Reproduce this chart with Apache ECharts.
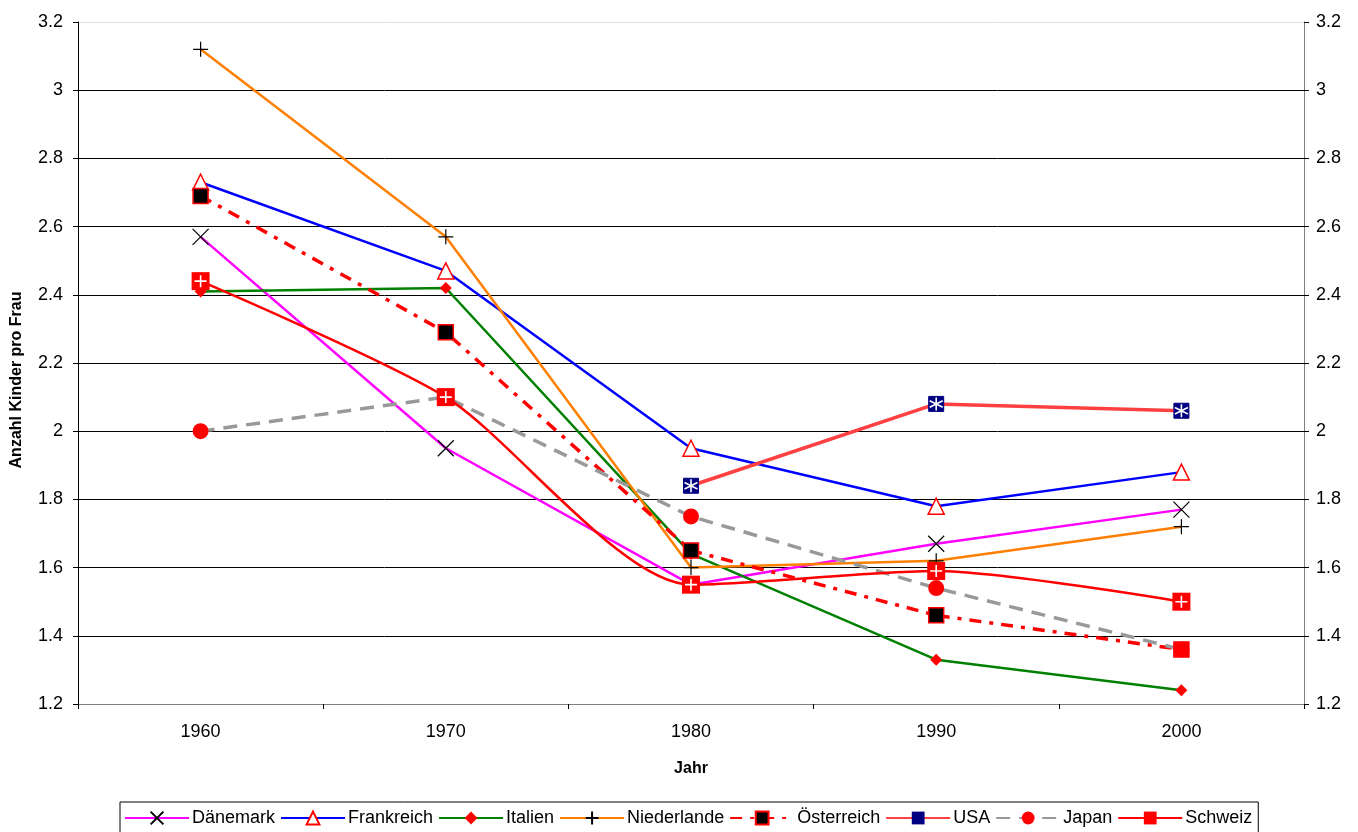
<!DOCTYPE html>
<html><head><meta charset="utf-8">
<script src="https://cdn.jsdelivr.net/npm/echarts@6/dist/echarts.min.js"></script>
<style>html,body{margin:0;padding:0;background:#fff}#c{width:1358px;height:832px}</style>
</head><body><div id="c"></div>
<script>
const years = ['1960','1970','1980','1990','2000'];
const daenemark = [2.57, 1.95, 1.55, 1.67, 1.77];
const frankreich = [2.73, 2.47, 1.95, 1.78, 1.88];
const italien = [2.41, 2.42, 1.64, 1.33, 1.24];
const niederlande = [3.12, 2.57, 1.60, 1.62, 1.72];
const oesterreich = [2.69, 2.29, 1.65, 1.46, 1.36];
const usa = [null, null, 1.84, 2.08, 2.06];
const japan = [2.00, 2.10, 1.75, 1.54, 1.36];
const schweiz = [2.44, 2.10, 1.55, 1.59, 1.50];
const yTicks = {min: 1.2, max: 3.2, step: 0.2};

const X_PATH = 'path://M0,0L20,20M20,0L0,20';
const PLUS_PATH = 'path://M10,0L10,20M0,10L20,10';
const STAR_PATH = 'path://M10,2L10,18M3,6L17,14M17,6L3,14';

const font = 'Arial, "Liberation Sans", sans-serif';
function line(name, data, color, width, type, symbol, size, itemStyle, extra) {
  return Object.assign({
    name, type: 'line', data, symbol, symbolSize: size, showSymbol: true,
    lineStyle: {color, width, type}, itemStyle, connectNulls: false, z: 2
  }, extra || {});
}
const series = [
  line('Dänemark', daenemark, '#ff00ff', 2.5, 'solid', X_PATH, 16, {color: 'rgba(0,0,0,0)', borderColor: '#000', borderWidth: 1.2}),
  line('Frankreich', frankreich, '#0000ff', 2.5, 'solid', 'triangle', 16, {color: '#fff', borderColor: '#ff0000', borderWidth: 1.5}),
  line('Italien', italien, '#008000', 2.5, 'solid', 'diamond', 12, {color: '#ff0000'}),
  line('Niederlande', niederlande, '#ff7f00', 2.5, 'solid', PLUS_PATH, 15, {color: 'rgba(0,0,0,0)', borderColor: '#000', borderWidth: 1.2}),
  line('Österreich', oesterreich.map((v, i) => i === 4 ? {value: v, itemStyle: {color: '#ff0000', borderColor: '#ff0000'}} : v), '#ff0000', 3.5, [12, 8, 4, 8], 'rect', 15, {color: '#000', borderColor: '#ff0000', borderWidth: 1.5}),
  line('USA', usa, '#ff4040', 3.5, 'solid', 'rect', 15, {color: '#000080', borderColor: '#000080'}),
  line('Japan', japan, '#999999', 3.5, [14, 9], 'circle', 16, {color: '#ff0000'}),
  line('Schweiz', schweiz, '#ff0000', 2.5, 'solid', 'rect', 18, {color: '#ff0000'}, {smooth: 0.25, smoothConstraint: false}),
  {name: 'usaStar', type: 'line', data: usa, symbol: STAR_PATH, symbolSize: 13, showSymbol: true, silent: true,
   lineStyle: {opacity: 0}, itemStyle: {color: 'rgba(0,0,0,0)', borderColor: '#fff', borderWidth: 1.6}, z: 5},
  {name: 'chCross', type: 'line', data: schweiz, symbol: PLUS_PATH, symbolSize: 12, showSymbol: true, silent: true,
   lineStyle: {opacity: 0}, itemStyle: {color: 'rgba(0,0,0,0)', borderColor: '#fff', borderWidth: 1.6}, z: 5}
];

const gridColors = ['#808080','#000','#000','#000','#000','#000','#000','#000','#000','#000','#e0e0e0'];
const yAxisBase = {
  type: 'value', min: yTicks.min, max: yTicks.max, interval: yTicks.step,
  axisLine: {show: true, lineStyle: {color: '#000', width: 1}},
  axisTick: {show: true, inside: false, length: 5, lineStyle: {color: '#000'}},
  axisLabel: {color: '#000', fontSize: 18, fontFamily: font, margin: 15}
};

const chart = echarts.init(document.getElementById('c'), null, {renderer: 'canvas'});
chart.setOption({
  animation: false,
  backgroundColor: '#fff',
  grid: {left: 78, right: 54, top: 22, bottom: 128},
  xAxis: {
    type: 'category', data: years, boundaryGap: true,
    name: 'Jahr', nameLocation: 'middle', nameGap: 57,
    nameTextStyle: {fontWeight: 'bold', fontSize: 16, fontFamily: font, color: '#000'},
    axisLine: {lineStyle: {color: '#808080', width: 1}},
    axisTick: {show: true, length: 5, lineStyle: {color: '#000'}},
    axisLabel: {color: '#000', fontSize: 18, fontFamily: font, margin: 19}
  },
  yAxis: [
    Object.assign({}, yAxisBase, {
      position: 'left', name: 'Anzahl Kinder pro Frau', nameLocation: 'middle', nameGap: 53,
      nameTextStyle: {fontWeight: 'bold', fontSize: 16, fontFamily: font, color: '#000', padding: [0, 34, 0, 0]},
      splitLine: {show: true, lineStyle: {color: gridColors, width: 1}}
    }),
    Object.assign({}, yAxisBase, {position: 'right', splitLine: {show: false},
      axisLabel: {color: '#000', fontSize: 18, fontFamily: font, margin: 12},
      axisLine: {show: true, lineStyle: {color: '#808080', width: 1}},
      axisTick: {show: true, inside: false, length: 5, lineStyle: {color: '#000'}}})
  ],
  legend: {
    data: ['Dänemark','Frankreich','Italien','Niederlande','Österreich','USA','Japan','Schweiz'],
    bottom: -2, left: 120, itemWidth: 64, itemHeight: 16, itemGap: 5,
    borderColor: '#000', borderWidth: 1, padding: [7, 6, 7, 4],
    textStyle: {color: '#000', fontSize: 18, fontFamily: font, padding: [0, 0, 0, -2]}
  },
  series
});
</script></body></html>
